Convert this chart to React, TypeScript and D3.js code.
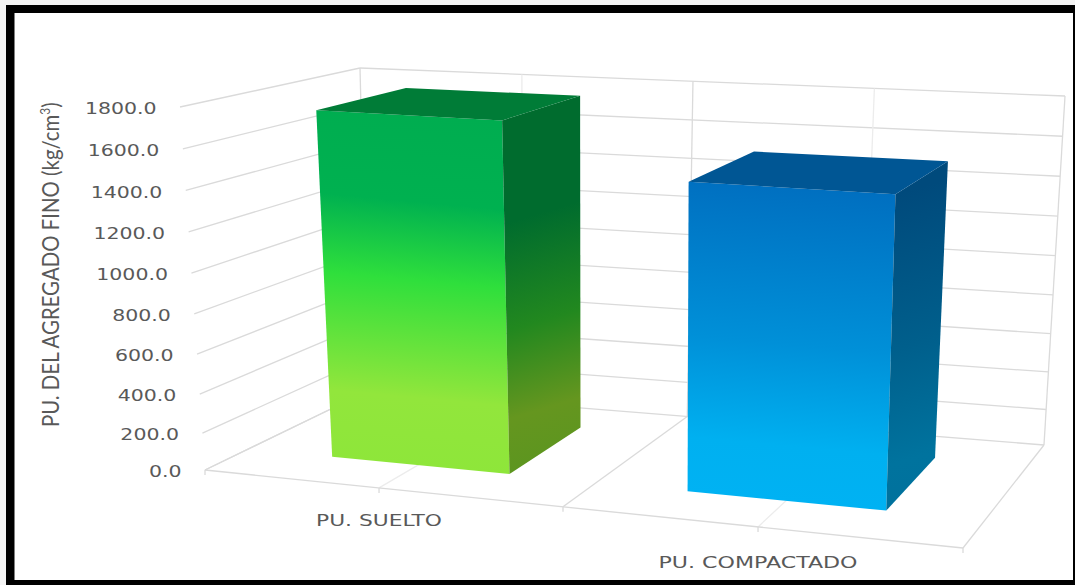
import React from "react";
import * as d3 from "d3";

const categories = ["PU. SUELTO", "PU. COMPACTADO"];
const seriesValues = [1755, 1515];
const yTicks = [0, 200, 400, 600, 800, 1000, 1200, 1400, 1600, 1800];
const yTitle = "PU. DEL AGREGADO FINO (kg/cm";

const frontStops = [
  [
    [0, "#00ad50"],
    [0.25, "#00b150"],
    [0.47, "#2fdf3c"],
    [0.8, "#92e63c"],
    [1, "#8ee63a"],
  ],
  [
    [0, "#006fc0"],
    [0.5, "#0090d8"],
    [0.82, "#00b0f0"],
    [1, "#00b2f3"],
  ],
];
const sideStops = [
  [
    [0, "#006c2e"],
    [0.27, "#006c2e"],
    [0.55, "#22881f"],
    [0.78, "#65961f"],
    [1, "#58951f"],
  ],
  [
    [0, "#004a7c"],
    [0.45, "#005f8c"],
    [0.78, "#00739e"],
    [1, "#00709c"],
  ],
];
const topColors = ["#007c37", "#005694"];

type Pt = [number, number];

// Corners of the plot cube on screen: [bottom, top] per floor corner.
const frontLeft: [Pt, Pt] = [[205, 470], [180, 107]];
const frontRight: [Pt, Pt] = [[963, 548], [977, 153]];
const backLeft: [Pt, Pt] = [[368, 391], [360, 68]];
const backRight: [Pt, Pt] = [[1044, 445], [1065, 96]];

const lerp = (a: number, b: number, t: number) => a + (b - a) * t;
const lerpPt = (a: Pt, b: Pt, t: number): Pt => [lerp(a[0], b[0], t), lerp(a[1], b[1], t)];

// Perspective foreshortening along the category axis.
const across = d3
  .scaleLinear()
  .domain([0, 0.125, 0.25, 0.375, 0.5, 0.625, 0.75, 0.875, 1])
  .range([0, 0.113, 0.2296, 0.354, 0.4723, 0.596, 0.7296, 0.866, 1]);
const height = d3.scalePow().exponent(1.04).domain([0, 1800]).range([0, 1]);
const band = d3.scaleBand().domain(categories).range([0, 1]).paddingInner(0.5).paddingOuter(0.25);
const barDepth: [number, number] = [0.27, 0.8];

// Maps category position, value and depth into the drawn cube.
function project(u: number, value: number, w: number): Pt {
  const f = across(u);
  const v = height(value);
  const front = lerpPt(lerpPt(frontLeft[0], frontRight[0], f), lerpPt(frontLeft[1], frontRight[1], f), v);
  const back = lerpPt(lerpPt(backLeft[0], backRight[0], f), lerpPt(backLeft[1], backRight[1], f), v);
  return lerpPt(front, back, w);
}

const poly = d3.line();
const MAX = 1800;
const GRID = "#dadada";
const GRID_LIGHT = "#ececec";
const TEXT = "#595959";

function Grid() {
  const segs: { a: Pt; b: Pt; c: string; k: string }[] = [];
  yTicks.forEach((t) => {
    segs.push({ a: project(0, t, 0), b: project(0, t, 1), c: GRID, k: `l${t}` });
    segs.push({ a: project(0, t, 1), b: project(1, t, 1), c: GRID, k: `b${t}` });
  });
  const centres = categories.map((c) => band(c)! + band.bandwidth() / 2);
  [0, 0.5, 1].forEach((u) => {
    segs.push({ a: project(u, 0, 1), b: project(u, MAX, 1), c: GRID, k: `v${u}` });
    segs.push({ a: project(u, 0, 0), b: project(u, 0, 1), c: GRID, k: `f${u}` });
    const p = project(u, 0, 0);
    segs.push({ a: p, b: [p[0], p[1] + 5], c: GRID, k: `t${u}` });
  });
  centres.forEach((u) => {
    segs.push({ a: project(u, 0, 1), b: project(u, MAX, 1), c: GRID_LIGHT, k: `cv${u}` });
    segs.push({ a: project(u, 0, 0), b: project(u, 0, 1), c: GRID_LIGHT, k: `cf${u}` });
    const p = project(u, 0, 0);
    segs.push({ a: p, b: [p[0], p[1] + 5], c: GRID, k: `ct${u}` });
  });
  segs.push({ a: project(0, 0, 0), b: project(1, 0, 0), c: GRID, k: "front" });
  return (
    <g fill="none" strokeWidth={1.3}>
      {segs.map((s) => (
        <path key={s.k} d={poly([s.a, s.b])!} stroke={s.c} />
      ))}
    </g>
  );
}

function Bar({ index }: { index: number }) {
  const name = categories[index];
  const value = seriesValues[index];
  const u0 = band(name)!;
  const u1 = u0 + band.bandwidth();
  const [w0, w1] = barDepth;
  const fl0 = project(u0, 0, w0);
  const fr0 = project(u1, 0, w0);
  const br0 = project(u1, 0, w1);
  const fl1 = project(u0, value, w0);
  const fr1 = project(u1, value, w0);
  const br1 = project(u1, value, w1);
  const bl1 = project(u0, value, w1);
  const span = fr0[1] - fr1[1];
  return (
    <g>
      <defs>
        <linearGradient
          id={`front${index}`}
          gradientUnits="userSpaceOnUse"
          x1={fr1[0]}
          y1={fr1[1]}
          x2={fr1[0] - 0.09 * span}
          y2={fr0[1]}
        >
          {frontStops[index].map(([o, c]) => (
            <stop key={o} offset={o as number} stopColor={c as string} />
          ))}
        </linearGradient>
        <linearGradient
          id={`side${index}`}
          gradientUnits="userSpaceOnUse"
          x1={fr1[0]}
          y1={fr1[1]}
          x2={fr1[0] + 0.3 * span}
          y2={fr0[1]}
        >
          {sideStops[index].map(([o, c]) => (
            <stop key={o} offset={o as number} stopColor={c as string} />
          ))}
        </linearGradient>
      </defs>
      <path d={poly([fl0, fr0, fr1, fl1])! + "Z"} fill={`url(#front${index})`} />
      <path d={poly([fr0, br0, br1, fr1])! + "Z"} fill={`url(#side${index})`} />
      <path d={poly([fl1, fr1, br1, bl1])! + "Z"} fill={topColors[index]} />
    </g>
  );
}

export default function App() {
  const tickFmt = d3.format(".1f");
  return (
    <svg
      width={1075}
      height={585}
      viewBox="0 0 1075 585"
      style={{ position: "absolute", left: 0, top: 0, display: "block", background: "#fff" }}
    >
      {/* Heavy outer frame */}
      <rect x={0} y={0} width={1075} height={585} fill="#f4f4f4" />
      <rect x={6} y={5} width={1069} height={580} fill="#000" />
      <rect x={14.5} y={13} width={1058.5} height={567} fill="#fff" />

      <Grid />
      {categories.map((_, i) => (
        <Bar key={i} index={i} />
      ))}

      {yTicks.map((t) => {
        const p = project(0, t, 0);
        const ax = p[0] - 23.5;
        return (
          <text
            key={t}
            x={ax}
            y={p[1] + 1.5}
            textAnchor="end"
            dominantBaseline="central"
            fontFamily="DejaVu Sans"
            fontSize={16}
            fill={TEXT}
            transform={`translate(${ax} 0) scale(1.28 1) translate(${-ax} 0)`}
          >
            {tickFmt(t)}
          </text>
        );
      })}

      {categories.map((c, i) => {
        const p = project(band(c)! + band.bandwidth() / 2, 0, 0);
        return (
          <text
            key={c}
            x={p[0]}
            y={p[1] + 33 + i * 3}
            textAnchor="middle"
            dominantBaseline="central"
            fontFamily="DejaVu Sans"
            fontSize={15}
            fill={TEXT}
            textLength={i === 0 ? 126 : 199}
            lengthAdjust="spacingAndGlyphs"
          >
            {c}
          </text>
        );
      })}

      <g transform="translate(59 427) rotate(-90)">
        <text fontFamily="Lato" fontSize={24} fill={TEXT} transform="scale(0.85 1)">
          {yTitle}
          <tspan fontSize={14} dy={-9}>
            3
          </tspan>
          <tspan dy={9}>)</tspan>
        </text>
      </g>
    </svg>
  );
}
